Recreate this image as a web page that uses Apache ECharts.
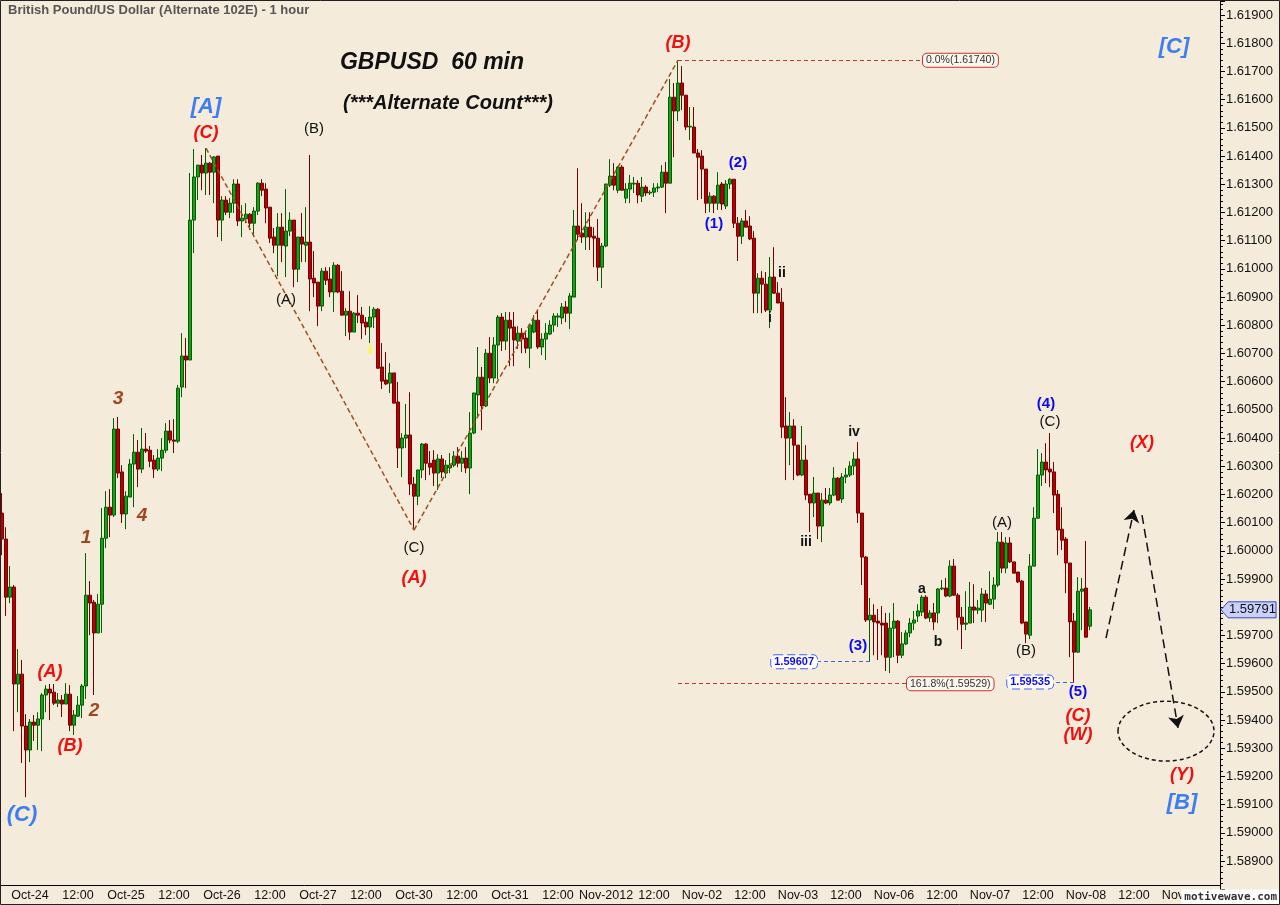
<!DOCTYPE html>
<html><head><meta charset="utf-8">
<script src="https://cdn.jsdelivr.net/npm/echarts/dist/echarts.min.js"></script>
<style>html,body{margin:0;padding:0;background:#f4ebdb;}#c{width:1280px;height:905px;}</style>
</head><body><div id="c"></div>
<script>
// ---------------- DATA (hourly GBPUSD bars) ----------------
const open = [1.60134,1.60042,1.59836,1.59872,1.59528,1.59563,1.59379,1.59294,1.59393,1.59382,1.59404,1.59489,1.5951,1.59499,1.5946,1.59471,1.59457,1.59492,1.59382,1.59414,
1.59453,1.59521,1.59843,1.59818,1.59709,1.59811,1.60045,1.60155,1.60127,1.60432,1.6028,1.60131,1.60191,1.60308,1.6035,1.6029,1.60361,1.60357,1.60322,1.6029,
1.60329,1.60357,1.60425,1.60393,1.60389,1.60581,1.60691,1.60677,1.61173,1.61326,1.61368,1.6134,1.61375,1.61343,1.614,1.61173,1.61244,1.61201,1.61233,1.61301,
1.6117,1.61177,1.61194,1.61162,1.61205,1.61304,1.61283,1.61219,1.61113,1.61084,1.61148,1.61081,1.61134,1.61173,1.60999,1.61113,1.61084,1.61095,1.60967,1.60953,
1.60868,1.60992,1.60964,1.60918,1.61013,1.60921,1.60836,1.6085,1.60776,1.60843,1.60836,1.60811,1.60794,1.60829,1.60857,1.60652,1.60606,1.60595,1.60631,1.60528,
1.60365,1.604,1.60411,1.60237,1.60194,1.60287,1.60379,1.60311,1.60322,1.60276,1.60326,1.60276,1.60294,1.60304,1.60336,1.60311,1.60329,1.60294,1.60418,1.60553,
1.60616,1.60514,1.60701,1.60613,1.6073,1.60829,1.60744,1.60818,1.60794,1.60744,1.60772,1.60755,1.60719,1.60776,1.60818,1.60723,1.60751,1.60769,1.60801,1.60829,
1.60826,1.60865,1.60843,1.609,1.61152,1.61127,1.61113,1.61148,1.61116,1.61109,1.61006,1.61081,1.61297,1.61329,1.61279,1.61361,1.61251,1.61283,1.61301,1.61304,
1.61258,1.6129,1.61269,1.61272,1.61287,1.6129,1.61343,1.61304,1.61609,1.6156,1.61659,1.61616,1.61503,1.61503,1.61411,1.614,1.61354,1.61233,1.61258,1.61233,
1.61301,1.61223,1.61301,1.61318,1.61162,1.61116,1.6117,1.61152,1.61109,1.60914,1.60967,1.60946,1.60854,1.60971,1.60914,1.60882,1.60443,1.604,1.60443,1.60375,
1.60269,1.60322,1.60201,1.6017,1.60205,1.60088,1.6018,1.6017,1.60198,1.60258,1.60184,1.60262,1.60269,1.60301,1.60326,1.60134,1.59978,1.59755,1.59772,1.59751,
1.59744,1.59744,1.59623,1.59726,1.59751,1.5963,1.5967,1.59709,1.59744,1.59769,1.59783,1.59836,1.59762,1.5978,1.5978,1.59865,1.59868,1.5984,1.59946,1.59843,
1.59765,1.5974,1.59744,1.59801,1.5979,1.5979,1.59847,1.59811,1.59829,1.59879,1.60031,1.59939,1.60028,1.59961,1.59925,1.59893,1.59748,1.59701,1.59946,1.60116,
1.60269,1.60315,1.6029,1.6028,1.60201,1.60077,1.60042,1.59957,1.59751,1.59641,1.59857,1.59868,1.59733];
const high = [1.60205,1.60084,1.59946,1.59879,1.59652,1.59613,1.59421,1.59404,1.59418,1.59428,1.59496,1.59524,1.59528,1.59528,1.59496,1.59489,1.59531,1.59524,1.59436,1.59485,
1.59528,1.59992,1.59893,1.59826,1.59847,1.60152,1.60212,1.60219,1.60471,1.60475,1.60304,1.60212,1.60326,1.60414,1.60393,1.60436,1.60418,1.60372,1.6034,1.60361,
1.604,1.60453,1.60464,1.60467,1.60588,1.60772,1.60755,1.6134,1.61425,1.61368,1.61404,1.61428,1.61379,1.614,1.614,1.61258,1.61258,1.61251,1.61318,1.61318,
1.61226,1.61233,1.61198,1.61219,1.61308,1.61318,1.61304,1.61219,1.61145,1.61198,1.61198,1.61283,1.61201,1.61173,1.61113,1.61198,1.61219,1.61404,1.61063,1.60953,
1.61003,1.61006,1.61006,1.61024,1.61017,1.60992,1.60861,1.60921,1.60847,1.60907,1.60865,1.60829,1.60868,1.60865,1.60861,1.60737,1.60705,1.60666,1.60631,1.60599,
1.60418,1.60521,1.60563,1.60262,1.60287,1.60382,1.60382,1.60354,1.60357,1.60343,1.6034,1.60322,1.60347,1.60354,1.60368,1.60354,1.60368,1.60492,1.6056,1.60723,
1.60652,1.60716,1.60758,1.60758,1.60836,1.60843,1.60847,1.60847,1.60847,1.60797,1.6079,1.60776,1.60801,1.60836,1.60854,1.60772,1.60808,1.60818,1.60843,1.60843,
1.60879,1.60886,1.60914,1.61209,1.61357,1.61233,1.61201,1.61201,1.61148,1.61177,1.61092,1.61301,1.61389,1.61375,1.61365,1.61368,1.61304,1.61333,1.61326,1.61315,
1.61326,1.61297,1.61279,1.61304,1.61304,1.61368,1.61379,1.61673,1.61659,1.6174,1.61719,1.61616,1.61574,1.61574,1.61425,1.61421,1.61354,1.61272,1.61262,1.61343,
1.61308,1.61315,1.61322,1.61318,1.61184,1.6118,1.61209,1.61187,1.61134,1.60985,1.60992,1.60989,1.61042,1.61077,1.60953,1.60932,1.60545,1.60492,1.60467,1.60375,
1.60443,1.60375,1.60201,1.60262,1.60205,1.60205,1.60223,1.60223,1.60297,1.60262,1.60276,1.60294,1.60318,1.6035,1.60386,1.60134,1.59982,1.59833,1.59811,1.59794,
1.59804,1.5978,1.5978,1.59815,1.59755,1.59712,1.59719,1.59762,1.59787,1.59811,1.59843,1.59843,1.5979,1.59815,1.59868,1.59897,1.59904,1.59967,1.59971,1.5985,
1.59801,1.59857,1.5989,1.59882,1.59826,1.59868,1.59861,1.59928,1.59907,1.60067,1.60067,1.60049,1.60049,1.59961,1.59925,1.59897,1.59748,1.59989,1.60155,1.60361,
1.60347,1.60382,1.60418,1.60315,1.60216,1.60155,1.60049,1.59957,1.5978,1.59907,1.59904,1.60035,1.59801];
const low = [1.59985,1.59769,1.59815,1.59361,1.59428,1.59248,1.59127,1.59251,1.59326,1.59294,1.5929,1.59428,1.594,1.59453,1.59446,1.59411,1.59457,1.59361,1.59347,1.59411,
1.59407,1.59475,1.59701,1.59489,1.59709,1.59709,1.6001,1.60049,1.6012,1.60258,1.60099,1.60077,1.60191,1.60155,1.60226,1.60276,1.60347,1.60297,1.60258,1.60283,
1.60283,1.60347,1.60382,1.60347,1.60382,1.60545,1.60577,1.60677,1.61056,1.61244,1.61279,1.61262,1.61262,1.61233,1.61113,1.61099,1.61191,1.6118,1.61198,1.61152,
1.61113,1.61162,1.61138,1.61113,1.61191,1.61258,1.61162,1.61092,1.61056,1.60974,1.61024,1.60971,1.61116,1.60935,1.60953,1.61024,1.61024,1.6085,1.609,1.60797,
1.6085,1.60943,1.609,1.60847,1.60914,1.60836,1.60762,1.60748,1.60776,1.60808,1.60751,1.60765,1.60737,1.6079,1.60645,1.60574,1.60588,1.6056,1.60524,1.60294,
1.60262,1.60365,1.60198,1.60074,1.60162,1.60258,1.60251,1.60269,1.6023,1.60216,1.60258,1.60258,1.60276,1.60297,1.60297,1.6028,1.60276,1.60201,1.60414,1.60475,
1.60428,1.6051,1.60595,1.60595,1.60609,1.60709,1.60712,1.60655,1.60655,1.60716,1.60701,1.60701,1.60648,1.60772,1.60716,1.60694,1.60677,1.60765,1.60776,1.60794,
1.60804,1.60811,1.60787,1.609,1.61102,1.61092,1.61067,1.61067,1.61006,1.60957,1.60932,1.61077,1.6129,1.61279,1.61269,1.61279,1.61233,1.61233,1.61269,1.61233,
1.61237,1.61258,1.61262,1.61255,1.61272,1.61287,1.61198,1.61304,1.61396,1.61524,1.61563,1.61492,1.61457,1.61411,1.61244,1.61248,1.61198,1.61201,1.61198,1.61209,
1.61209,1.61212,1.61283,1.61145,1.61028,1.61088,1.61148,1.61102,1.60843,1.60843,1.60843,1.60847,1.6079,1.60911,1.60879,1.604,1.60251,1.60304,1.60251,1.60265,
1.60265,1.6018,1.60067,1.6012,1.60042,1.60031,1.60166,1.60162,1.60194,1.6018,1.6017,1.6024,1.60262,1.60269,1.60099,1.59879,1.59748,1.59607,1.5963,1.59613,
1.5963,1.59574,1.59567,1.59623,1.59602,1.5962,1.59666,1.59694,1.59719,1.59748,1.59769,1.59758,1.59748,1.59719,1.59744,1.59861,1.59836,1.59836,1.5984,1.59719,
1.59652,1.59719,1.59744,1.59744,1.59776,1.59748,1.59748,1.59808,1.59794,1.59872,1.59921,1.59921,1.59957,1.59921,1.59886,1.5974,1.59673,1.59687,1.59946,1.60113,
1.6023,1.6024,1.60226,1.60134,1.59985,1.60003,1.5985,1.59623,1.59535,1.59638,1.59719,1.59694,1.59719];
const close = [1.60042,1.59836,1.59872,1.59528,1.59563,1.59379,1.59294,1.59393,1.59382,1.59404,1.59489,1.5951,1.59496,1.5946,1.59471,1.59457,1.59492,1.59382,1.59418,1.59453,
1.59521,1.59843,1.59815,1.59709,1.59811,1.60045,1.60155,1.60127,1.60432,1.60276,1.60131,1.60194,1.60308,1.6035,1.6029,1.60361,1.60354,1.60318,1.6029,1.60329,
1.60357,1.60425,1.60393,1.60389,1.60577,1.60691,1.60677,1.61173,1.61326,1.61368,1.6134,1.61375,1.61343,1.61397,1.61173,1.61244,1.61201,1.61233,1.61301,1.6117,
1.6118,1.61194,1.61162,1.61205,1.61304,1.61279,1.61216,1.61109,1.61084,1.61148,1.61084,1.61134,1.61173,1.60999,1.61113,1.61088,1.61095,1.60964,1.6095,1.60868,
1.60992,1.6096,1.60918,1.61013,1.60918,1.60836,1.6085,1.60776,1.60843,1.60836,1.60808,1.60794,1.60829,1.60857,1.60648,1.60602,1.60592,1.60631,1.60524,1.60365,
1.604,1.60411,1.60237,1.60194,1.60287,1.60379,1.60311,1.60297,1.60276,1.60326,1.6028,1.60304,1.60304,1.60336,1.60311,1.60329,1.60294,1.60418,1.6056,1.60616,
1.60514,1.60701,1.60613,1.6073,1.60829,1.60744,1.60818,1.6079,1.60748,1.60772,1.60751,1.60719,1.60801,1.60818,1.60723,1.60751,1.60772,1.60801,1.60833,1.60833,
1.60865,1.60843,1.60904,1.61152,1.61123,1.61113,1.61148,1.61113,1.61109,1.61006,1.61081,1.61301,1.61329,1.61297,1.61361,1.61279,1.61283,1.61304,1.61304,1.61262,
1.6129,1.61269,1.61272,1.61287,1.6129,1.61343,1.61304,1.61609,1.6156,1.61659,1.61616,1.61503,1.61506,1.61411,1.61396,1.61354,1.61233,1.61258,1.61233,1.61297,
1.6123,1.61301,1.61318,1.61162,1.61116,1.6117,1.61148,1.61106,1.60914,1.60967,1.60946,1.60854,1.60971,1.60914,1.60879,1.60439,1.604,1.60443,1.60375,1.60269,
1.60322,1.60198,1.6017,1.60205,1.60088,1.6018,1.6017,1.60198,1.60258,1.6018,1.60262,1.60269,1.60301,1.60326,1.60134,1.59978,1.59755,1.59772,1.59748,1.59744,
1.59737,1.59623,1.59726,1.59751,1.5963,1.5967,1.59709,1.59744,1.59755,1.59787,1.59836,1.59762,1.5978,1.59748,1.59865,1.59868,1.5984,1.59946,1.59843,1.59765,
1.5974,1.59744,1.59801,1.5979,1.59797,1.59847,1.59815,1.59829,1.59879,1.60031,1.59939,1.60028,1.59961,1.59921,1.5989,1.59744,1.59705,1.59946,1.60116,1.60269,
1.60315,1.60287,1.6028,1.60198,1.60074,1.60038,1.59957,1.59748,1.59641,1.59857,1.59865,1.59694,1.59791];
const tickLabels = ['Oct-24','12:00','Oct-25','12:00','Oct-26','12:00','Oct-27','12:00','Oct-30','12:00','Oct-31','12:00','Nov-2012','12:00','Nov-02','12:00','Nov-03','12:00','Nov-06','12:00','Nov-07','12:00','Nov-08','12:00','Nov-09'];
const firstLabelBar = 7;
const barsPerLabel = 12;
const totalBars = 305;
// wave labels: [text, bar, price, style]
const waveLabels = [
 ['[A]',50.7,1.61574,'azure'],['(C)',51.2,1.61482,'red'],['(B)',77.7,1.61496,'black'],['(A)',70.9,1.60889,'black'],
 ['(C)',103.4,1.6001,'black'],['(A)',103.2,1.59904,'red'],['(B)',169.2,1.61801,'red'],['(1)',178.2,1.61159,'blue'],
 ['(2)',183.7,1.61375,'blue'],['ii',194.9,1.60985,'minor'],['i',192.4,1.60826,'minor'],['iii',201.2,1.60031,'minor'],
 ['iv',212.9,1.60421,'minor'],['(3)',213.7,1.59662,'blue'],['a',229.9,1.59865,'minor'],['b',233.7,1.59677,'minor'],
 ['(A)',249.7,1.60099,'black'],['(B)',256.4,1.59645,'black'],['(4)',261.4,1.6052,'blue'],['(C)',262.2,1.60457,'black'],
 ['(5)',268.7,1.59499,'blue'],['(C)',268.7,1.59414,'red'],['(W)',269.4,1.59347,'red'],['(X)',285.2,1.60382,'red'],
 ['[C]',292.7,1.61787,'azure'],['[B]',294.7,1.59106,'azure'],['(Y)',295.4,1.59205,'red'],
 ['(A)',11.7,1.5957,'red'],['(B)',16.7,1.59308,'red'],['(C)',5.2,1.59063,'azure'],
 ['1',21.4,1.60045,'brown'],['2',23.4,1.59432,'brown'],['3',29.2,1.60538,'brown'],['4',34.7,1.60123,'brown'],
 ['i',91.9,1.60712,'yellow']
];
// fib / price marker lines: [label, price, fromBar, toBar, kind]
const levelLines = [
 ['0.0%(1.61740)',1.6174,169,229.7,'fib'],
 ['161.8%(1.59529)',1.59529,169,226.4,'fib'],
 ['1.59607',1.59607,217,204.4,'tag'],
 ['1.59535',1.59535,268,263.2,'tag']
];
// zigzag (C)->(A)->(B)
const zigzag = [[51,1.61428],[103,1.60074],[169,1.6174]];
// trend line from (2)
const trendLine = [[182,1.6132],[304.5,1.59953]];
// projection arrows
const arrows = [[[275.9,1.59691],[282.5,1.60145]],[[284.7,1.60127],[293.9,1.59372]]];
// target ellipse: centre bar, centre price, half-width (bars), half-height (price)
const target = {bar:290.7, price:1.59361, halfBars:12.5, halfPrice:0.00106};

// ---------------- CHART ----------------
const chart = echarts.init(document.getElementById('c'));
const cats = Array.from({length: totalBars}, (_, i) => 'b' + i);
const candles = open.map((o, i) => [o, close[i], low[i], high[i]]);
const isTick = i => i >= firstLabelBar && (i - firstLabelBar) % barsPerLabel === 0;
const FONT = '"Liberation Sans", Arial, sans-serif';
const styles = {
 azure:{color:'#3d7ef0',fontSize:22,fontStyle:'italic',fontWeight:'bold'},
 red:{color:'#f01010',fontSize:18,fontStyle:'italic',fontWeight:'bold'},
 black:{color:'#111',fontSize:15,fontWeight:'normal'},
 blue:{color:'#0a0af0',fontSize:15,fontWeight:'bold'},
 minor:{color:'#111',fontSize:14,fontWeight:'bold'},
 brown:{color:'#a3461c',fontSize:19,fontStyle:'italic',fontWeight:'bold'},
 yellow:{color:'#ffff00',fontSize:13,fontWeight:'bold'}
};
const markPoints = waveLabels.map(([t, b, p, s]) => ({
 coord:[b, p], symbol:'circle', symbolSize:1, itemStyle:{color:'rgba(0,0,0,0)'},
 label:Object.assign({show:true, position:'inside', formatter:t, fontFamily:FONT}, styles[s])
}));
const lines = [];
levelLines.forEach(([t, p, a, b, kind]) => {
 const fib = kind === 'fib';
 lines.push([{coord:[a, p], lineStyle:{color: fib ? '#c83232' : '#3a64f0', type:[4,3], width:1},
   label:{show:true, position:'end', distance:1, formatter:t, fontFamily:FONT,
     fontSize: fib ? 10.5 : 11, fontWeight: fib ? 'normal' : 'bold', color: fib ? '#333' : '#1010e0',
     backgroundColor: fib ? '#fbf6ec' : '#ffffff', borderColor: fib ? '#c83232' : '#3a64f0',
     borderType: fib ? 'solid' : 'dashed', borderWidth:1, borderRadius:4, padding:[1,3,1,3]}},
   {coord:[b, p]}]);
});
for (let i = 0; i < zigzag.length - 1; i++) {
 lines.push([{coord:zigzag[i], lineStyle:{color:'#a0501e', type:[5,3], width:1.5}, label:{show:false}}, {coord:zigzag[i+1]}]);
}
lines.push([{coord:trendLine[0], lineStyle:{color:'#333', type:[6,3,1,3], width:1}, label:{show:false}}, {coord:trendLine[1]}]);
arrows.forEach(([s, e]) => {
 lines.push([{coord:s, lineStyle:{color:'#111', type:[9,5], width:1.5}, label:{show:false}},
   {coord:e, symbol:'arrow', symbolSize:12}]);
});

const baseGraphics = [
 {type:'text', left:8, top:4, style:{text:'British Pound/US Dollar (Alternate 102E) - 1 hour', font:'bold 13px ' + FONT, fill:'#555'}},
 {type:'text', style:{x:432, y:63, text:'GBPUSD  60 min', font:'italic bold 23px ' + FONT, fill:'#111', textAlign:'center', textVerticalAlign:'middle'}},
 {type:'text', style:{x:448, y:103, text:'(***Alternate Count***)', font:'italic bold 20px ' + FONT, fill:'#111', textAlign:'center', textVerticalAlign:'middle'}}
];
const option = {
 animation:false,
 backgroundColor:'#f4ebdb',
 textStyle:{fontFamily:FONT},
 grid:{left:0, right:60, top:1, bottom:15.7},
 xAxis:{type:'category', data:cats, boundaryGap:true, offset:-4,
  axisLine:{lineStyle:{color:'#000', width:1}},
  axisTick:{alignWithLabel:true, interval:(i) => isTick(i), length:5, lineStyle:{color:'#000'}},
  axisLabel:{interval:(i) => isTick(i), formatter:(v, i) => tickLabels[(i - firstLabelBar) / barsPerLabel] || '',
   fontSize:12.5, color:'#111', margin:4, fontFamily:FONT},
  splitLine:{show:false}},
 yAxis:{type:'value', position:'right', min:1.588, max:1.6195, interval:0.001,
  axisLine:{show:true, lineStyle:{color:'#000'}},
  axisTick:{show:true, length:5, lineStyle:{color:'#000'}},
  minorTick:{show:true, splitNumber:5, length:3, lineStyle:{color:'#000'}},
  splitLine:{show:false}, minorSplitLine:{show:false},
  axisLabel:{margin:6, fontSize:13, color:'#111', fontFamily:FONT,
   formatter:(v) => (v < 1.5885 || v > 1.6191) ? '' : v.toFixed(5)}},
 series:[{
  type:'candlestick', data:candles, barWidth:3,
  itemStyle:{color:'#1c9c1c', color0:'#b80000', borderColor:'#006000', borderColor0:'#780000', borderWidth:1},
  markPoint:{silent:true, animation:false, data:markPoints},
  markLine:{silent:true, animation:false, symbol:['none','none'], data:lines}
 }],
 graphic:baseGraphics
};
chart.setOption(option);

// decorations derived from data coordinates
const c0 = chart.convertToPixel({seriesIndex:0}, [target.bar, target.price]);
const cx1 = chart.convertToPixel({seriesIndex:0}, [target.bar + target.halfBars, target.price + target.halfPrice]);
const lastY = chart.convertToPixel({yAxisIndex:0}, close[close.length - 1]);
const axisX = 1280 - 60;
chart.setOption({graphic:baseGraphics.concat([
 {type:'ellipse', shape:{cx:c0[0], cy:c0[1], rx:Math.abs(cx1[0]-c0[0]), ry:Math.abs(c0[1]-cx1[1])},
  style:{fill:'none', stroke:'#111', lineWidth:1.5, lineDash:[4,3]}, z:10},
 {type:'polygon', shape:{points:[[axisX+1,lastY],[axisX+8,lastY-8],[1276,lastY-8],[1276,lastY+8],[axisX+8,lastY+8]]},
  style:{fill:'#c9d0fa', stroke:'#3048c8', lineWidth:1}, z:10},
 {type:'text', style:{x:axisX+9, y:lastY, text:close[close.length-1].toFixed(5), font:'13px ' + FONT, fill:'#111', textVerticalAlign:'middle'}, z:11},
 {type:'text', style:{x:1279, y:897, text:'motivewave.com', font:'bold 11px "DejaVu Sans Mono", monospace', fill:'#333',
  textAlign:'right', textVerticalAlign:'middle', backgroundColor:'#ffffff', padding:[2,2,2,3]}, z:12},
 {type:'rect', shape:{x:0.5, y:0.5, width:1279, height:904}, style:{fill:'none', stroke:'#222', lineWidth:1}, z:12}
])});
</script>
</body></html>
